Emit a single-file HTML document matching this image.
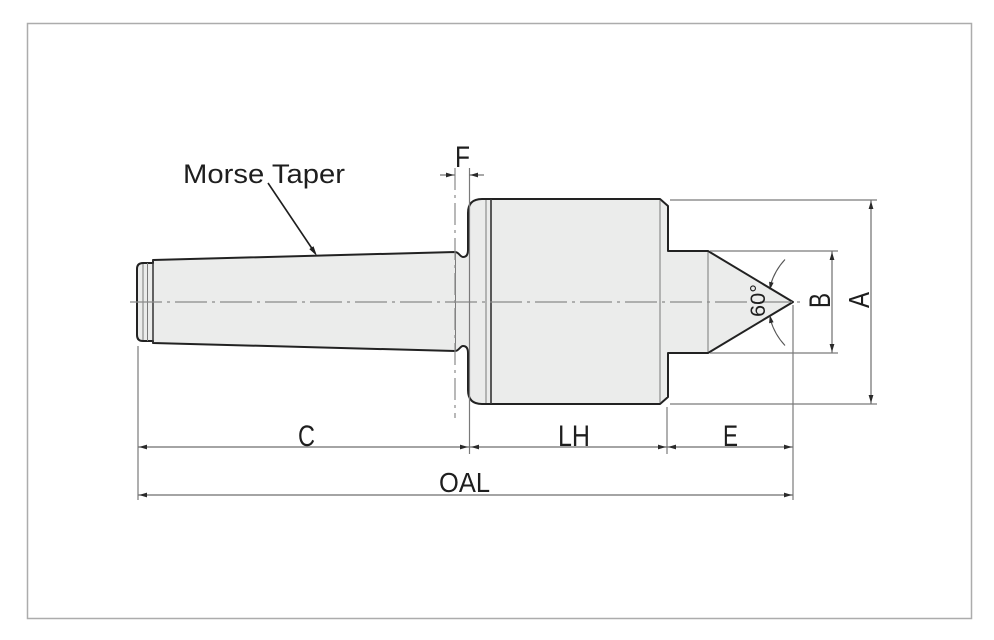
<!DOCTYPE html>
<html>
<head>
<meta charset="utf-8">
<style>
  html,body{margin:0;padding:0;background:#fff;}
  svg{display:block;}
  text{font-family:"Liberation Sans",Arial,sans-serif;fill:#1e1e1e;}
</style>
</head>
<body>
<svg width="994" height="640" viewBox="0 0 994 640" xmlns="http://www.w3.org/2000/svg">
  <rect x="0" y="0" width="994" height="640" fill="#ffffff"/>
  <!-- frame -->
  <rect x="27.5" y="23.5" width="944" height="595" fill="none" stroke="#acacac" stroke-width="1.5"/>

  <!-- part body -->
  <path d="M153,260 L455,252 C459,252 460,257 463,257 C467,257 468,254 468,250 L468,213 Q468,199 482,199 L660,199 L668,206 L668,251 L708,251 L793,302 L708,353 L668,353 L668,397 L660,404 L482,404 Q468,404 468,390 L468,353 C468,349 467,346 463,346 C460,346 459,351 455,351 L153,343 L153,341 L143,341 Q137,341 137,335 L137,269 Q137,263 143,263 L153,263 Z"
        fill="#ebeceb" stroke="#222" stroke-width="2" stroke-linejoin="round"/>

  <!-- interior lines -->
  <g stroke="#7a7a7a" stroke-width="1" fill="none">
    <line x1="143" y1="264" x2="143" y2="340"/>
    <line x1="147.5" y1="263" x2="147.5" y2="341"/>
    <line x1="455.5" y1="253" x2="455.5" y2="350"/>
    <line x1="486" y1="200" x2="486" y2="403"/>
    <line x1="660" y1="200" x2="660" y2="403"/>
    <line x1="708" y1="252" x2="708" y2="352"/>
  </g>
  <line x1="153" y1="260" x2="153" y2="343" stroke="#333" stroke-width="1.5"/>
  <line x1="491" y1="199" x2="491" y2="404" stroke="#333" stroke-width="1.6"/>

  <!-- centre line -->
  <line x1="130" y1="302" x2="801" y2="302" stroke="#8a8a8a" stroke-width="1.2" stroke-dasharray="32 5 3 5"/>
  <!-- F dash-dot extension -->
  <line x1="455" y1="168" x2="455" y2="418" stroke="#8a8a8a" stroke-width="1.2" stroke-dasharray="22 5 3 5"/>

  <!-- extension lines -->
  <g stroke="#7a7a7a" stroke-width="1.2" fill="none">
    <line x1="138" y1="346" x2="138" y2="500"/>
    <line x1="469.5" y1="168" x2="469.5" y2="454"/>
    <line x1="667" y1="407" x2="667" y2="454"/>
    <line x1="793" y1="305" x2="793" y2="500"/>
    <line x1="670" y1="200" x2="877" y2="200"/>
    <line x1="670" y1="404" x2="877" y2="404"/>
    <line x1="710" y1="251" x2="838" y2="251"/>
    <line x1="710" y1="353" x2="838" y2="353"/>
  </g>

  <!-- dimension lines -->
  <g stroke="#6e6e6e" stroke-width="1.2" fill="none">
    <line x1="138" y1="447" x2="793" y2="447"/>
    <line x1="138" y1="495" x2="793" y2="495"/>
    <line x1="871" y1="200" x2="871" y2="404"/>
    <line x1="832" y1="251" x2="832" y2="353"/>
    <line x1="440" y1="175" x2="455" y2="175"/>
    <line x1="469" y1="175" x2="484" y2="175"/>
  </g>

  <!-- arrowheads -->
  <g fill="#2a2a2a" stroke="none">
    <!-- C -->
    <polygon points="139,447 147,444.6 147,449.4"/>
    <polygon points="468,447 460,444.6 460,449.4"/>
    <!-- LH -->
    <polygon points="471,447 479,444.6 479,449.4"/>
    <polygon points="666,447 658,444.6 658,449.4"/>
    <!-- E -->
    <polygon points="668,447 676,444.6 676,449.4"/>
    <polygon points="792,447 784,444.6 784,449.4"/>
    <!-- OAL -->
    <polygon points="139,495 147,492.6 147,497.4"/>
    <polygon points="792,495 784,492.6 784,497.4"/>
    <!-- A -->
    <polygon points="871,201 868.6,209 873.4,209"/>
    <polygon points="871,403 868.6,395 873.4,395"/>
    <!-- B -->
    <polygon points="832,252 829.6,260 834.4,260"/>
    <polygon points="832,352 829.6,344 834.4,344"/>
    <!-- F -->
    <polygon points="454,175 446,172.6 446,177.4"/>
    <polygon points="470,175 478,172.6 478,177.4"/>
  </g>

  <!-- angle arcs -->
  <g stroke="#555" stroke-width="1.1" fill="none">
    <path d="M785,259.5 A63,63 0 0 0 770.5,285"/>
    <path d="M785,345.5 A63,63 0 0 1 770.5,320"/>
  </g>
  <g fill="#2a2a2a">
    <polygon points="769.8,290 773.6,282.7 769.1,281.7"/>
    <polygon points="769.8,315 773.6,322.3 769.1,323.3"/>
  </g>

  <!-- Morse taper leader -->
  <line x1="268" y1="183" x2="313" y2="250" stroke="#1e1e1e" stroke-width="1.6"/>
  <polygon points="317,256 309.3,249.1 313.5,246.3" fill="#1e1e1e"/>

  <!-- labels -->
  <text x="183" y="183" font-size="27" textLength="162" lengthAdjust="spacingAndGlyphs">Morse Taper</text>
  <text x="455" y="167" font-size="30" textLength="15" lengthAdjust="spacingAndGlyphs">F</text>
  <text x="298" y="446" font-size="30" textLength="17" lengthAdjust="spacingAndGlyphs">C</text>
  <text x="558" y="446" font-size="30" textLength="32" lengthAdjust="spacingAndGlyphs">LH</text>
  <text x="723" y="446" font-size="30" textLength="15" lengthAdjust="spacingAndGlyphs">E</text>
  <text x="439" y="492" font-size="28" textLength="51" lengthAdjust="spacingAndGlyphs">OAL</text>
  <text transform="translate(830,308) rotate(-90)" font-size="30" textLength="15" lengthAdjust="spacingAndGlyphs">B</text>
  <text transform="translate(869,308) rotate(-90)" font-size="29" textLength="16" lengthAdjust="spacingAndGlyphs">A</text>
  <text transform="translate(765,317) rotate(-90)" font-size="21" textLength="33" lengthAdjust="spacingAndGlyphs">60°</text>
</svg>
</body>
</html>
